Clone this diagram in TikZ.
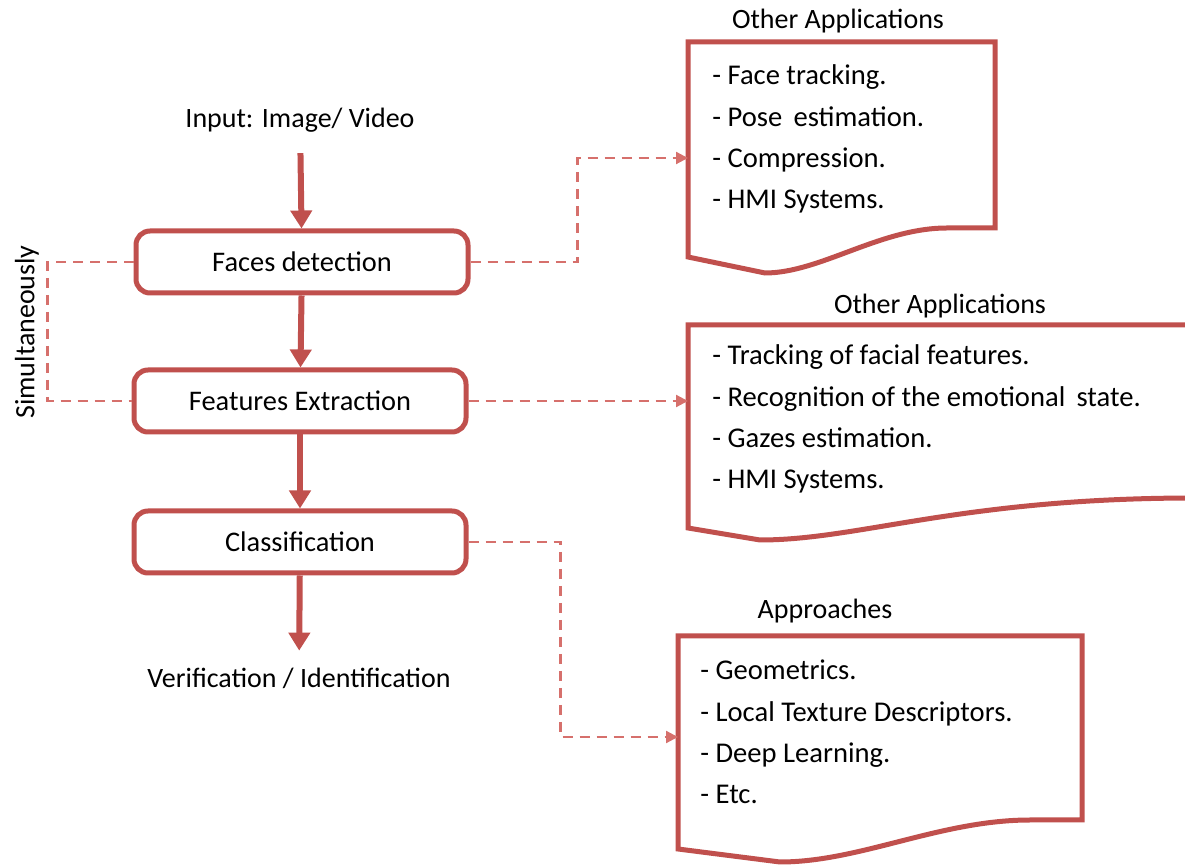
\documentclass[tikz,border=0pt]{standalone}
\usepackage{fontspec}
\setmainfont{Carlito}
\usetikzlibrary{arrows.meta}
\definecolor{accent}{RGB}{192,80,77}
\definecolor{lightaccent}{RGB}{214,112,108}
\tikzset{
  stage/.style={draw=accent,line width=2.5pt,rounded corners=7pt,fill=white,
    minimum width=166pt,minimum height=31pt,font=\fontsize{14.2}{17}\selectfont},
  label/.style={font=\fontsize{14}{17}\selectfont},
  flow/.style={draw=accent,line width=3pt,-{Triangle[width=10.5pt,length=9pt]}},
  link/.style={draw=lightaccent,line width=1.1pt,dash pattern=on 5pt off 3.5pt},
  linkarrow/.style={link,-{Triangle[width=6pt,length=6pt]}},
  docline/.style={draw=accent,line width=2.5pt,miter limit=4},
  doctext/.style={align=left,anchor=west,inner sep=0pt,
    font=\fontsize{14.3}{20.6}\selectfont}
}
\begin{document}
\begin{tikzpicture}[x=0.5pt,y=-0.5pt]
\useasboundingbox (0,0) rectangle (1185,865);

% main chain
\node[label] (input) at (300,120) {Input: Image/ Video};
\node[stage] (detect) at (302,262) {Faces detection};
\node[stage] (extract) at (300,401) {Features Extraction};
\node[stage] (classify) at (300,542) {Classification};
\node[label] (verify) at (299,678) {Verification / Identification};
\node[label,rotate=90] (simul) at (27,332) {Simultaneously};

\draw[flow,shorten <=7pt] (input) -- (detect);
\draw[flow] (detect) -- (extract);
\draw[flow] (extract) -- (classify);
\draw[flow,shorten >=5pt] (classify) -- (verify);

% documents
\draw[docline] (688,257) -- (688,42) -- (995,42) -- (995,228) -- (947,228)
  .. controls (880,228) and (820,273) .. (765,273) -- cycle;
\draw[docline] (1195,325) -- (688,325) -- (688,528) -- (760,540)
  .. controls (860,540) and (960,498) .. (1195,498);
\draw[docline] (678,849) -- (678,636) -- (1082,636) -- (1082,820) -- (1030,820)
  .. controls (940,820) and (860,862) .. (780,862) -- cycle;

\node[label] (title1) at (838,21) {Other Applications};
\node[label] (title2) at (940,306) {Other Applications};
\node[label] (title3) at (825,611) {Approaches};

\node[doctext] (apps1) at (712,139) {- Face tracking.\\- Pose\, estimation.\\- Compression.\\- HMI Systems.};
\node[doctext] (apps2) at (712,419) {- Tracking of facial features.\\- Recognition of the emotional\, state.\\- Gazes estimation.\\- HMI Systems.};
\node[doctext] (apps3) at (700,732) {- Geometrics.\\- Local Texture Descriptors.\\- Deep Learning.\\- Etc.};

\coordinate (in1) at (688,158);
\coordinate (in2) at (688,401);
\coordinate (in3) at (678,737);

% dashed links
\draw[link] (detect.west) -- ++(-86,0) |- (extract.west);
\draw[linkarrow] (detect.east) -- ++(107,0) |- (in1);
\draw[linkarrow] (extract.east) -- (in2);
\draw[linkarrow] (classify.east) -- ++(92,0) |- (in3);
\end{tikzpicture}
\end{document}
